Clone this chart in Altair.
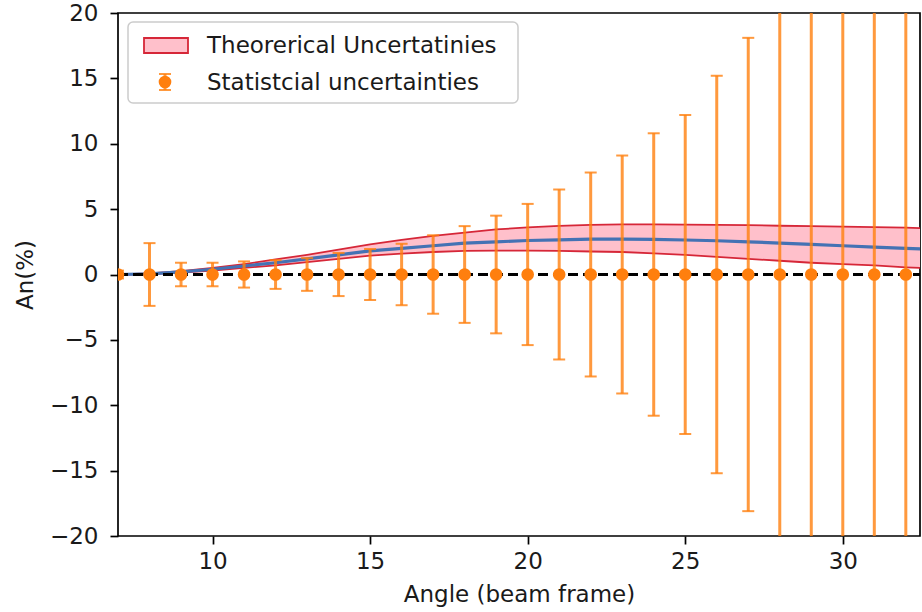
import altair as alt
import pandas as pd

# Measured points: analysing power is zero everywhere, with statistical error bars
angle = list(range(7, 33))
an_value = [0.0] * len(angle)
stat_err = [0.3, 2.4, 0.9, 0.9, 1.0, 1.1, 1.25, 1.65, 1.95, 2.35, 3.0, 3.7, 4.5,
            5.4, 6.5, 7.8, 9.1, 10.8, 12.2, 15.2, 18.1, 22.0, 26.0, 31.0, 37.0, 44.0]

# Theory prediction with its uncertainty band
theory_angle = [7, 8, 9, 10, 11, 12, 13, 14, 15, 16, 17, 18, 19, 20, 21, 22, 23,
                24, 25, 26, 27, 28, 29, 30, 31, 32, 32.5]
theory_mid = [0.0, 0.05, 0.2, 0.4, 0.65, 0.9, 1.2, 1.5, 1.8, 2.0, 2.2, 2.4, 2.5,
              2.6, 2.65, 2.7, 2.7, 2.68, 2.64, 2.58, 2.5, 2.4, 2.3, 2.2, 2.1, 2.0, 1.95]
theory_hi = [0.0, 0.08, 0.25, 0.5, 0.8, 1.15, 1.5, 1.9, 2.3, 2.65, 2.95, 3.2, 3.45,
             3.6, 3.72, 3.8, 3.83, 3.84, 3.82, 3.8, 3.77, 3.73, 3.7, 3.66, 3.62, 3.58, 3.55]
theory_lo = [0.0, 0.03, 0.15, 0.3, 0.5, 0.7, 0.95, 1.2, 1.45, 1.6, 1.72, 1.8, 1.82,
             1.82, 1.8, 1.76, 1.72, 1.62, 1.5, 1.35, 1.2, 1.05, 0.9, 0.8, 0.7, 0.55, 0.5]

x_ticks = [10, 15, 20, 25, 30]
y_ticks = [-20, -15, -10, -5, 0, 5, 10, 15, 20]

FONT = "DejaVu Sans"
FS = 23
ORANGE = "#ff7f0e"
TXT = "#1a1a1a"

pts = pd.DataFrame({"angle": angle, "an": an_value, "err": stat_err})
pts["lo"] = pts["an"] - pts["err"]
pts["hi"] = pts["an"] + pts["err"]

th = pd.DataFrame({"angle": theory_angle, "mid": theory_mid,
                   "hi": theory_hi, "lo": theory_lo})

xs = alt.Scale(domain=[7, 32.45], nice=False, zero=False)
ys = alt.Scale(domain=[-20, 20], nice=False, zero=False)

x_axis = alt.Axis(values=x_ticks, title="Angle (beam frame)", grid=False,
                  tickSize=8, tickWidth=1.7, tickColor="black", domain=False,
                  labelFont=FONT, labelFontSize=FS, labelColor=TXT, labelPadding=6,
                  titleFont=FONT, titleFontSize=FS, titleFontWeight="normal",
                  titleColor=TXT, titlePadding=10)
y_axis = alt.Axis(values=y_ticks, title="An(%)", grid=False,
                  tickSize=8, tickWidth=1.7, tickColor="black", domain=False,
                  labelFont=FONT, labelFontSize=FS, labelColor=TXT, labelPadding=12,
                  labelExpr="replace(datum.label, '-', '\u2212')",
                  titleFont=FONT, titleFontSize=FS, titleFontWeight="normal",
                  titleColor=TXT, titlePadding=12)

X = alt.X("angle:Q", scale=xs, axis=x_axis)

band = alt.Chart(th).mark_area(color="pink", opacity=1, clip=True).encode(
    x=X, y=alt.Y("lo:Q", scale=ys, axis=y_axis), y2="hi:Q")
band_hi = alt.Chart(th).mark_line(color="#d62738", strokeWidth=1.8, clip=True).encode(
    x="angle:Q", y="hi:Q")
band_lo = alt.Chart(th).mark_line(color="#d62738", strokeWidth=1.8, clip=True).encode(
    x="angle:Q", y="lo:Q")
mid = alt.Chart(th).mark_line(color="#4472b4", strokeWidth=3.2, clip=True).encode(
    x="angle:Q", y="mid:Q")

zero = alt.Chart(pd.DataFrame({"y": [0]})).mark_rule(
    color="black", strokeWidth=3, strokeDash=[10, 5], clip=True).encode(
    y="y:Q", x=alt.value(0), x2=alt.value(802))

bars = alt.Chart(pts).mark_rule(color=ORANGE, opacity=0.8, strokeWidth=3, clip=True).encode(
    x="angle:Q", y="lo:Q", y2="hi:Q")
cap_hi = alt.Chart(pts).mark_tick(color=ORANGE, opacity=0.8, orient="horizontal",
                                  size=12, thickness=2, clip=True).encode(
    x="angle:Q", y="hi:Q")
cap_lo = alt.Chart(pts).mark_tick(color=ORANGE, opacity=0.8, orient="horizontal",
                                  size=12, thickness=2, clip=True).encode(
    x="angle:Q", y="lo:Q")
dots = alt.Chart(pts).mark_circle(color=ORANGE, opacity=1, size=160, clip=True).encode(
    x="angle:Q", y="an:Q")

# Legend box drawn in the upper-left corner of the plot
one = pd.DataFrame({"k": [0]})
leg_box = alt.Chart(one).mark_rect(fill="white", fillOpacity=0.8, stroke="#cccccc",
                                   strokeWidth=1.5, cornerRadius=5).encode(
    x=alt.value(10), x2=alt.value(400), y=alt.value(9), y2=alt.value(90))
leg_patch = alt.Chart(one).mark_rect(fill="pink", stroke="#d62738", strokeWidth=1.8).encode(
    x=alt.value(26), x2=alt.value(70), y=alt.value(25), y2=alt.value(40))
leg_bar = alt.Chart(one).mark_rule(color=ORANGE, opacity=0.8, strokeWidth=3).encode(
    x=alt.value(47), y=alt.value(61), y2=alt.value(77))
leg_cap1 = alt.Chart(one).mark_rule(color=ORANGE, opacity=0.8, strokeWidth=2).encode(
    x=alt.value(41), x2=alt.value(53), y=alt.value(61))
leg_cap2 = alt.Chart(one).mark_rule(color=ORANGE, opacity=0.8, strokeWidth=2).encode(
    x=alt.value(41), x2=alt.value(53), y=alt.value(77))
leg_dot = alt.Chart(one).mark_circle(color=ORANGE, opacity=1, size=160).encode(
    x=alt.value(47), y=alt.value(69))
leg_t1 = alt.Chart(one).mark_text(text="Theorerical Uncertatinies", align="left",
                                  baseline="middle", font=FONT, fontSize=FS,
                                  color=TXT).encode(x=alt.value(89), y=alt.value(33))
leg_t2 = alt.Chart(one).mark_text(text="Statistcial uncertainties", align="left",
                                  baseline="middle", font=FONT, fontSize=FS,
                                  color=TXT).encode(x=alt.value(89), y=alt.value(70))

chart = alt.layer(
    band, band_hi, band_lo, mid, zero, bars, cap_hi, cap_lo, dots,
    leg_box, leg_patch, leg_bar, leg_cap1, leg_cap2, leg_dot, leg_t1, leg_t2
).properties(
    width=802, height=523,
    autosize=alt.AutoSizeParams(type="none"),
    padding={"left": 118, "top": 13, "right": 2, "bottom": 76},
    background="white",
).configure_view(stroke="black", strokeWidth=1.7)

chart.save("out.html", embed_options={"renderer": "svg", "actions": False})
